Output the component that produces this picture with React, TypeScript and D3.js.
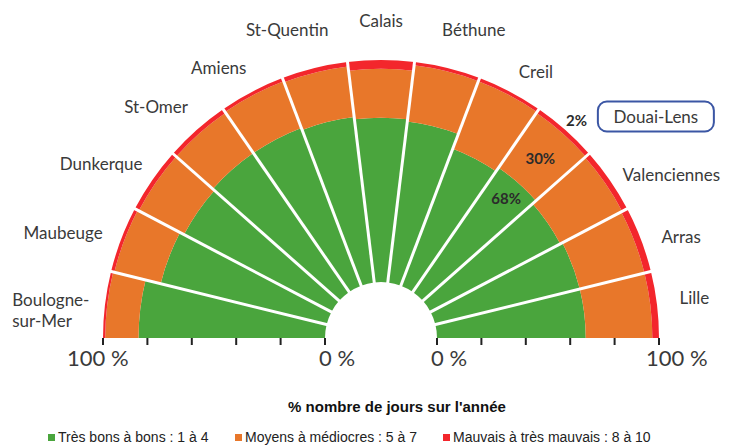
import React from "react";
import * as d3 from "d3";

const cities = ["Boulogne-sur-Mer", "Maubeuge", "Dunkerque", "St-Omer", "Amiens", "St-Quentin", "Calais", "Béthune", "Creil", "Douai-Lens", "Valenciennes", "Arras", "Lille"];
const goodPct = [84, 77, 75, 76, 76, 75, 74, 73, 66, 68, 66, 67, 67];
const mediumPct = [15, 21.5, 23, 22, 22.5, 23, 22, 25.5, 32.5, 30, 31.5, 30, 30];
const badPct = [1, 1.5, 2, 2, 1.5, 2, 4, 1.5, 1.5, 2, 2.5, 3, 3];
const axisTicks = [0, 20, 40, 60, 80, 100];
const legendLabels = ["Très bons à bons : 1 à 4", "Moyens à médiocres : 5 à 7", "Mauvais à très mauvais : 8 à 10"];
const highlighted = "Douai-Lens";
const title = "% nombre de jours sur l'année";

// label layout (radius in px from centre, angular nudge in degrees)
const labelRadius = [327, 335, 330, 323, 315, 322, 318, 322, 308, 353, 333, 317, 316];
const labelNudge = [-2, -2.4, -2.6, -2.6, -3.3, -3.1, 0, 2.9, 2.5, 9.6, 5.3, 2, -0.4];

const W = 737, H = 448;
const cx = 381, cy = 338;
const colors = ["#4aa53d", "#e8772a", "#f3262c"];
const textColor = "#3a3a3a";
const font = "Lato, 'Open Sans', sans-serif";
const narrow = "'Liberation Sans Narrow', 'Liberation Sans', Arial, sans-serif";

export default function App() {
  const r = d3.scaleLinear().domain([0, 100]).range([56, 278]);
  const angle = d3.scaleLinear().domain([0, cities.length]).range([-Math.PI / 2, Math.PI / 2]);
  const arc = d3.arc<any>();
  const series = [goodPct, mediumPct, badPct];
  const deg = Math.PI / 180;

  const segments: any[] = [];
  cities.forEach((c, i) => {
    let acc = 0;
    series.forEach((s, k) => {
      segments.push({
        key: c + k,
        d: arc({ innerRadius: r(acc), outerRadius: r(acc + s[i]), startAngle: angle(i), endAngle: angle(i + 1) }),
        fill: colors[k],
      });
      acc += s[i];
    });
  });

  const toXY = (a: number, rad: number) => [cx + rad * Math.sin(a), cy - rad * Math.cos(a)];

  const boundaries = d3.range(1, cities.length).map((i) => {
    const a = angle(i);
    const [x1, y1] = toXY(a, r(0) - 2);
    const [x2, y2] = toXY(a, r(100) + 4);
    return { x1, y1, x2, y2, i };
  });

  const labels = cities.map((c, i) => {
    const mid = (angle(i) + angle(i + 1)) / 2;
    const [x, y] = toXY(mid + labelNudge[i] * deg, labelRadius[i]);
    return { c, x, y, i };
  });

  const hiIdx = cities.indexOf(highlighted);
  const hiMid = (angle(hiIdx) + angle(hiIdx + 1)) / 2;
  const g = goodPct[hiIdx], m = mediumPct[hiIdx], b = badPct[hiIdx];
  const dataLabels = [
    { t: `${g}%`, p: toXY(hiMid + 0.2 * deg, r(g) - 19) },
    { t: `${m}%`, p: toXY(hiMid, (r(g) + r(g + m)) / 2 ) },
    { t: `${b}%`, p: toXY(hiMid + 0.3 * deg, r(100) + 15) },
  ];

  const leftX = (v: number) => cx - r(v);
  const rightX = (v: number) => cx + r(v);

  const legendX = [48, 235, 443];

  return (
    <div style={{ position: "absolute", left: 0, top: 0 }}>
      <svg width={W} height={H} viewBox={`0 0 ${W} ${H}`} style={{ display: "block", background: "#fff" }}>
        <g transform={`translate(${cx},${cy})`}>
          {segments.map((s) => (
            <path key={s.key} d={s.d} fill={s.fill} />
          ))}
        </g>
        {boundaries.map((l) => (
          <line key={l.i} x1={l.x1} y1={l.y1} x2={l.x2} y2={l.y2} stroke="#fff" strokeWidth={3} />
        ))}
        {axisTicks.map((t) => (
          <g key={t}>
            <line x1={leftX(t)} x2={leftX(t)} y1={cy} y2={cy + 7} stroke="#222" strokeWidth={2} />
            <line x1={rightX(t)} x2={rightX(t)} y1={cy} y2={cy + 7} stroke="#222" strokeWidth={2} />
          </g>
        ))}
        <g fontFamily={font} fontSize={22} fill={textColor}>
          <text x={leftX(100) - 36} y={cy + 28}>100 %</text>
          <text x={leftX(0) - 6} y={cy + 28}>0 %</text>
          <text x={rightX(0) - 6} y={cy + 28}>0 %</text>
          <text x={rightX(100) - 13} y={cy + 28}>100 %</text>
        </g>
        <g fontFamily={font} fontSize={17} fill={textColor}>
          {labels.map((l) => {
            if (l.c === "Boulogne-sur-Mer") {
              return (
                <g key={l.c}>
                  <text x={l.x - 43} y={l.y - 10} dominantBaseline="central">Boulogne-</text>
                  <text x={l.x - 43} y={l.y + 11} dominantBaseline="central">sur-Mer</text>
                </g>
              );
            }
            return (
              <text key={l.c} x={l.x} y={l.y} textAnchor="middle" dominantBaseline="central">{l.c}</text>
            );
          })}
        </g>
        {labels.filter((l) => l.c === highlighted).map((l) => (
          <rect key="box" x={l.x - 58} y={l.y - 15} width={116} height={30} rx={9} fill="none" stroke="#3b56a4" strokeWidth={2} />
        ))}
        <g fontFamily={font} fontSize={15} fontWeight={700} fill="#2b2b2b">
          {dataLabels.map((d) => (
            <text key={d.t} x={d.p[0]} y={d.p[1]} textAnchor="middle" dominantBaseline="central">{d.t}</text>
          ))}
        </g>
        <text x={397} y={412} textAnchor="middle" fontFamily={narrow} fontWeight={700} fontSize={15} fill="#111">{title}</text>
        <g fontFamily={narrow} fontSize={14} fill="#222">
          {legendLabels.map((t, i) => (
            <g key={t}>
              <rect x={legendX[i]} y={434} width={7} height={7} fill={colors[i]} />
              <text x={legendX[i] + 10} y={442}>{t}</text>
            </g>
          ))}
        </g>
      </svg>
    </div>
  );
}
